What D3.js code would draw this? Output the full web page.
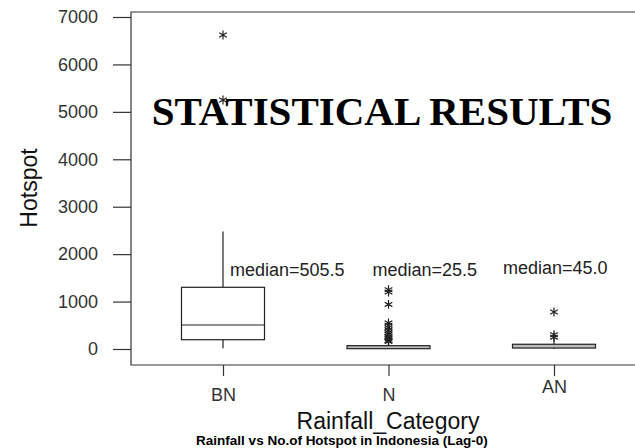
<!DOCTYPE html>
<html>
<head>
<meta charset="utf-8">
<script src="https://cdn.jsdelivr.net/npm/d3@7"></script>
<style>
  html, body { margin: 0; padding: 0; background: #fff; }
  svg { display: block; }
</style>
</head>
<body>
<svg id="chart" width="635" height="448"></svg>
<script>
// ---- data ----
const categories = ["BN", "N", "AN"];
const q1 = [196, 8, 20];
const medians = [505.5, 25.5, 45.0];
const q3 = [1301, 70, 100];
const whiskerLow = [15, 0, 0];
const whiskerHigh = [2480, 150, 210];
const outliersBN = [6620, 5250];
const outliersN = [1250, 1200, 940, 550, 500, 450, 400, 350, 310, 270, 240, 210, 180, 160];
const outliersAN = [780, 300, 250];
const medianLabels = ["median=505.5", "median=25.5", "median=45.0"];
const yTicks = [0, 1000, 2000, 3000, 4000, 5000, 6000, 7000];

const outliers = [outliersBN, outliersN, outliersAN];

const svg = d3.select("#chart");
const font = "'Liberation Sans', Arial, sans-serif";

const frame = { left: 131, top: 12, bottom: 365, right: 640 };

const y = d3.scaleLinear().domain([0, 7000]).range([349, 17]);
const x = d3.scalePoint().domain(categories).range([223, 554]);
const boxHalf = 41.5;

// frame
svg.append("path")
  .attr("d", `M${frame.right},${frame.top}H${frame.left}V${frame.bottom}H${frame.right}`)
  .attr("fill", "none").attr("stroke", "#333").attr("stroke-width", 1.2);

// y axis
const yAxis = d3.axisLeft(y).tickValues(yTicks).tickSize(18).tickPadding(15).tickFormat(d3.format("d"));
const gy = svg.append("g").attr("transform", `translate(${frame.left},0)`).call(yAxis);
gy.select(".domain").remove();
gy.selectAll(".tick line").attr("stroke", "#333").attr("stroke-width", 1.2);
gy.selectAll(".tick text").attr("font-family", font).attr("font-size", 18).attr("fill", "#333");

// x axis
const xAxis = d3.axisBottom(x).tickSize(11).tickPadding(12);
const gx = svg.append("g").attr("transform", `translate(0,${frame.bottom})`).call(xAxis);
gx.select(".domain").remove();
gx.selectAll(".tick line").attr("stroke", "#333").attr("stroke-width", 1.2);
gx.selectAll(".tick text").attr("font-family", font).attr("font-size", 18).attr("fill", "#333")
  .attr("dy", d => d === "AN" ? "0.25em" : "0.71em");

// boxes
const boxes = svg.append("g");
categories.forEach((c, i) => {
  const cx = x(c);
  const g = boxes.append("g");
  // whiskers
  g.append("line").attr("x1", cx).attr("x2", cx)
    .attr("y1", y(q3[i])).attr("y2", y(whiskerHigh[i]))
    .attr("stroke", "#222").attr("stroke-width", 1.2);
  g.append("line").attr("x1", cx).attr("x2", cx)
    .attr("y1", y(q1[i])).attr("y2", y(whiskerLow[i]))
    .attr("stroke", "#222").attr("stroke-width", 1.2);
  // box
  g.append("rect")
    .attr("x", cx - boxHalf).attr("width", boxHalf * 2)
    .attr("y", y(q3[i])).attr("height", Math.max(y(q1[i]) - y(q3[i]), 3))
    .attr("fill", i === 0 ? "#fff" : "#bbb").attr("stroke", "#222").attr("stroke-width", 1.2);
  // median
  if (i === 0) {
    g.append("line").attr("x1", cx - boxHalf).attr("x2", cx + boxHalf)
      .attr("y1", y(medians[i])).attr("y2", y(medians[i]))
      .attr("stroke", "#222").attr("stroke-width", 1.2);
  }
  // outliers
  const sym = d3.symbol().type(d3.symbolAsterisk).size(55);
  g.selectAll("path.out").data(outliers[i]).join("path")
    .attr("class", "out")
    .attr("transform", d => `translate(${cx},${y(d)})`)
    .attr("d", sym)
    .attr("fill", "none").attr("stroke", "#222").attr("stroke-width", 1.2);
});

// median labels
const labelDx = [7, -16, -51];
const labelY = [276, 276, 274];
categories.forEach((c, i) => {
  svg.append("text")
    .attr("x", x(c) + labelDx[i]).attr("y", labelY[i])
    .attr("font-family", font).attr("font-size", 18).attr("fill", "#222")
    .text(medianLabels[i]);
});

// axis titles
svg.append("text")
  .attr("transform", "translate(37,188) rotate(-90)")
  .attr("text-anchor", "middle")
  .attr("font-family", font).attr("font-size", 23).attr("fill", "#111")
  .text("Hotspot");

svg.append("text")
  .attr("x", 388).attr("y", 429)
  .attr("text-anchor", "middle")
  .attr("font-family", font).attr("font-size", 23).attr("fill", "#111")
  .text("Rainfall_Category");

svg.append("text")
  .attr("x", 342).attr("y", 445)
  .attr("text-anchor", "middle")
  .attr("font-family", font).attr("font-size", 13.5).attr("font-weight", "bold").attr("fill", "#000")
  .text("Rainfall vs No.of Hotspot in Indonesia (Lag-0)");

// overlay title
svg.append("text")
  .attr("x", 382).attr("y", 125)
  .attr("text-anchor", "middle")
  .attr("font-family", "'Liberation Serif', 'Times New Roman', serif")
  .attr("font-size", 41).attr("font-weight", "bold").attr("fill", "#000")
  .text("STATISTICAL RESULTS");
</script>
</body>
</html>
